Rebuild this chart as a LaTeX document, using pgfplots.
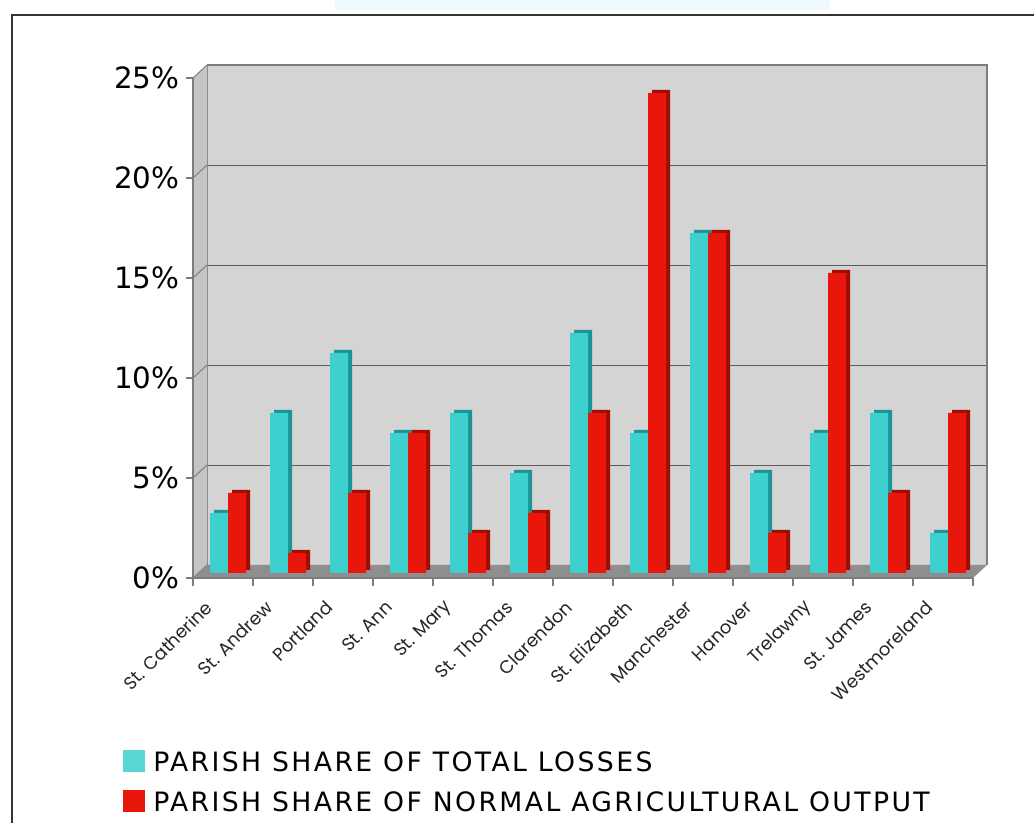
\documentclass[border=0pt]{standalone}
\usepackage{fontspec}
\usepackage{pgfplots}
\usepackage{pgfplotstable}
\pgfplotsset{compat=1.18}

\newfontfamily\dejavu{DejaVu Sans}
\newfontfamily\dejavuwide[LetterSpace=9]{DejaVu Sans}
\newfontfamily\poppins{Poppins}

\definecolor{tealfront}{HTML}{3ECFCF}
\definecolor{tealside}{HTML}{1A9494}
\definecolor{redfront}{HTML}{E8160B}
\definecolor{redside}{HTML}{A00D02}
\definecolor{wallback}{HTML}{D4D4D4}
\definecolor{wallside}{HTML}{C4C4C4}
\definecolor{floorc}{HTML}{8E8E8E}
\definecolor{gridc}{HTML}{5C5C5C}

% share of total losses / share of normal agricultural output, in percent
\pgfplotstableread{
idx losses output
0   3   4
1   8   1
2   11  4
3   7   7
4   8   2
5   5   3
6   12  8
7   7   24
8   17  17
9   5   2
10  7   15
11  8   4
12  2   8
}\parishdata

\begin{document}
\begin{tikzpicture}
\useasboundingbox (0,0) rectangle (775.5pt,617.25pt);
\begin{scope}[x=0.75pt,y=0.75pt]
\fill[white] (0,0) rectangle (1034,823);
% faint header strip and outer frame
\fill[cyan!7] (335,813) rectangle (830,823);
\draw[line width=1.8pt, black!80] (12,-5) -- (12,808) -- (1040,808);
\end{scope}

% back wall with horizontal grid
\begin{axis}[at={(155.25pt,193.5pt)}, anchor=south west, scale only axis,
  width=585pt, height=375pt,
  xmin=-0.5, xmax=12.5, ymin=0, ymax=25,
  axis background/.style={fill=wallback},
  xtick=\empty, ytick={5,10,15,20}, yticklabels={},
  ymajorgrids, grid style={gridc, line width=0.7pt},
  major tick length=0pt, axis line style={draw=none}]
  \addplot[draw=none] coordinates {(0,0)};
\end{axis}

\begin{scope}[x=0.75pt,y=0.75pt]
\draw[gridc!80, line width=1pt] (207,758) -- (987,758) -- (987,258);
% left wall
\fill[wallside] (193,245) -- (193,745) -- (207,758) -- (207,258) -- cycle;
\draw[gridc!70, line width=0.7pt] (207,258) -- (207,758);
\foreach \k in {0,...,5}
  \draw[gridc!80, line width=0.7pt] (193,245+100*\k) -- (207,258+100*\k);
% floor
\fill[floorc] (193,245) -- (973,245) -- (987,258) -- (207,258) -- cycle;
\end{scope}

% bars
\begin{axis}[at={(148.5pt,187.5pt)}, anchor=south west, scale only axis,
  width=585pt, height=375pt,
  xmin=-0.5, xmax=12.5, ymin=0, ymax=25,
  hide axis, clip=false]
  \addplot[ybar, bar width=13.5pt, bar shift=-6.75pt, fill=tealside, draw=none,
    xshift=3pt, yshift=2.25pt] table[x=idx, y=losses] {\parishdata};
  \addplot[ybar, bar width=13.5pt, bar shift=6.75pt, fill=redside, draw=none,
    xshift=3pt, yshift=2.25pt] table[x=idx, y=output] {\parishdata};
  \addplot[ybar, bar width=13.5pt, bar shift=-6.75pt, fill=tealfront, draw=none]
    table[x=idx, y=losses] {\parishdata};
  \addplot[ybar, bar width=13.5pt, bar shift=6.75pt, fill=redfront, draw=none]
    table[x=idx, y=output] {\parishdata};
\end{axis}

% front axis lines, ticks and labels
\begin{axis}[at={(144.75pt,183.75pt)}, anchor=south west, scale only axis,
  width=585pt, height=375pt,
  xmin=-0.5, xmax=12.5, ymin=0, ymax=25,
  axis x line*=bottom, axis y line*=left,
  axis line style={gridc!80, line width=0.8pt, -},
  tick style={gridc!80, line width=0.8pt},
  tick align=outside,
  major tick length=5.25pt, minor tick length=6pt,
  xtick={0,...,12}, minor xtick={-0.5,0.5,...,12.5},
  major x tick style={draw=none},
  xticklabels={St. Catherine, St. Andrew, Portland, St. Ann, St. Mary,
    St. Thomas, Clarendon, St. Elizabeth, Manchester, Hanover, Trelawny,
    St. James, Westmoreland},
  xticklabel style={font=\poppins\fontsize{13.5}{16}\selectfont, black!85,
    xshift=-8pt, yshift=-12pt, rotate=45, anchor=east},
  ytick={0,5,...,25},
  yticklabels={0\%,5\%,10\%,15\%,20\%,25\%},
  yticklabel style={font=\dejavu\fontsize{22}{26}\selectfont, black, xshift=-1.5pt},
  ]
  \addplot[draw=none] coordinates {(0,0)};
\end{axis}

% legend
\begin{scope}[x=0.75pt,y=0.75pt]
\fill[tealfront!85!white] (123,51) rectangle (145,73);
\node[anchor=base west, inner sep=0pt, font=\dejavuwide\fontsize{20}{24}\selectfont]
  at (153,51) {PARISH SHARE OF TOTAL LOSSES};
\fill[redfront] (123,11) rectangle (145,33);
\node[anchor=base west, inner sep=0pt, font=\dejavuwide\fontsize{20}{24}\selectfont]
  at (153,11) {PARISH SHARE OF NORMAL AGRICULTURAL OUTPUT};
\end{scope}
\end{tikzpicture}
\end{document}
